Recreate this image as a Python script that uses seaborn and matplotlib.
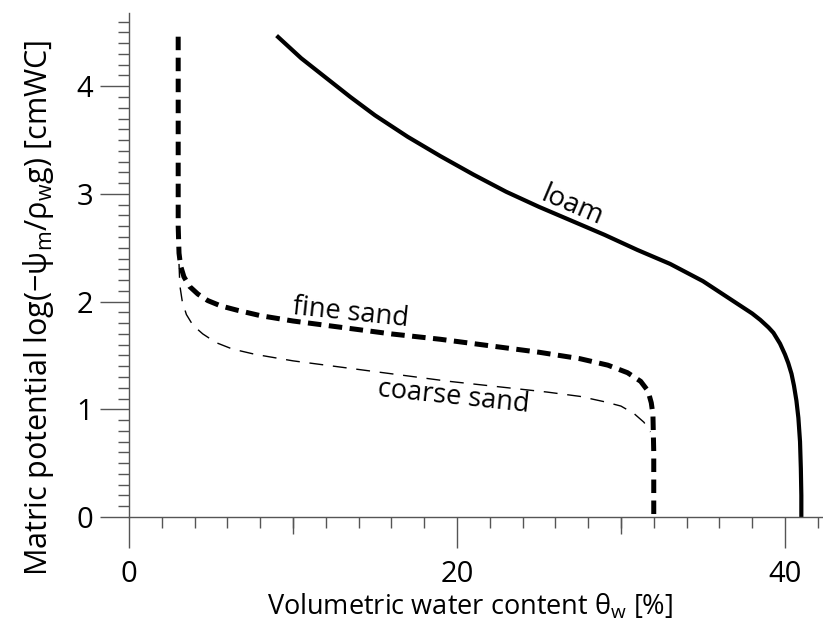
import matplotlib
matplotlib.use("Agg")
import matplotlib.pyplot as plt
from matplotlib.ticker import MultipleLocator, FixedLocator, NullFormatter
import seaborn as sns
import pandas as pd

# Water retention curves: volumetric water content (%) vs log matric potential
loam_theta = [9.0, 10.5, 12.0, 13.5, 15.0, 17.0, 19.0, 21.0, 23.0, 25.0, 27.0, 29.0,
              31.0, 33.0, 35.0, 36.5, 37.5, 38.0, 38.5, 39.0, 39.3, 39.7, 40.0, 40.2,
              40.4, 40.55, 40.7, 40.82, 40.92, 40.97, 41.0, 41.0]
loam_psi = [4.47, 4.26, 4.08, 3.90, 3.73, 3.53, 3.35, 3.18, 3.02, 2.88, 2.75, 2.62,
            2.48, 2.35, 2.19, 2.04, 1.94, 1.89, 1.83, 1.76, 1.71, 1.61, 1.51, 1.43,
            1.33, 1.22, 1.08, 0.92, 0.70, 0.45, 0.20, 0.0]

fine_theta = [3.0, 3.0, 3.0, 3.05, 3.15, 3.35, 3.7, 4.2, 4.8, 5.6, 6.6, 8.0, 10.0,
              13.0, 16.0, 19.0, 22.0, 25.0, 27.5, 29.2, 30.4, 31.2, 31.65, 31.85,
              31.95, 32.0, 32.0]
fine_psi = [4.46, 3.5, 2.7, 2.45, 2.33, 2.23, 2.14, 2.07, 2.01, 1.96, 1.92, 1.87, 1.82,
            1.76, 1.70, 1.65, 1.59, 1.53, 1.47, 1.41, 1.34, 1.26, 1.17, 1.06,
            0.95, 0.6, 0.0]

coarse_theta = [3.05, 3.1, 3.25, 3.5, 3.9, 4.5, 5.3, 6.3, 7.7, 10.0, 13.5, 16.5, 19.5,
                22.5, 25.5, 27.5, 29.0, 30.0, 30.8, 31.4, 31.8]
coarse_psi = [2.35, 2.15, 2.0, 1.88, 1.78, 1.70, 1.62, 1.56, 1.51, 1.45, 1.38, 1.32, 1.26,
              1.21, 1.16, 1.12, 1.07, 1.03, 0.96, 0.88, 0.79]

x_major = [0, 20, 40]
x_mid = [10, 30]
y_major = [0, 1, 2, 3, 4]

sns.set_style("ticks")
plt.rcParams["font.family"] = ["Open Sans", "DejaVu Sans"]
plt.rcParams["text.color"] = "black"
plt.rcParams["axes.labelcolor"] = "black"
plt.rcParams["xtick.labelcolor"] = "black"
plt.rcParams["ytick.labelcolor"] = "black"

grey = "#555555"
fig = plt.figure(figsize=(8.23, 6.27), dpi=100)
ax = fig.add_axes([129 / 823, 110 / 627, 693 / 823, 504 / 627])

def draw(theta, psi, **kw):
    df = pd.DataFrame({"theta": theta, "psi": psi})
    sns.lineplot(data=df, x="theta", y="psi", sort=False, estimator=None,
                 ax=ax, color="black", **kw)

draw(loam_theta, loam_psi, linewidth=3.0, solid_capstyle="butt",
     solid_joinstyle="round")
draw(fine_theta, fine_psi, linewidth=3.6, linestyle=(0, (2.7, 1.5)),
     dash_capstyle="butt")
draw(coarse_theta, coarse_psi, linewidth=1.0, linestyle=(0, (10, 7)),
     dash_capstyle="butt")

ax.set_xlim(0, 42.26)
ax.set_ylim(0, 4.68)

for s in ["top", "right"]:
    ax.spines[s].set_visible(False)
for s in ["left", "bottom"]:
    ax.spines[s].set_color(grey)
    ax.spines[s].set_linewidth(1.0)

ax.xaxis.set_major_locator(FixedLocator(x_major))
ax.xaxis.set_minor_locator(MultipleLocator(2))
ax.yaxis.set_major_locator(FixedLocator(y_major))
ax.yaxis.set_minor_locator(FixedLocator([i / 10 for i in range(0, 47)]))
ax.tick_params(axis="x", which="major", length=22, width=1, color=grey,
               labelsize=21, pad=9, direction="out")
ax.tick_params(axis="x", which="minor", length=8, width=1, color=grey,
               direction="out")
ax.tick_params(axis="y", which="major", length=21, width=1, color=grey,
               labelsize=21, pad=5, direction="out")
ax.tick_params(axis="y", which="minor", length=8, width=1, color=grey,
               direction="out")

# medium-length ticks at 10 and 30
sec = ax.secondary_xaxis("bottom")
sec.set_xticks(x_mid)
sec.xaxis.set_major_formatter(NullFormatter())
sec.tick_params(length=12, width=1, color=grey, direction="out")
sec.spines["bottom"].set_visible(False)

ax.set_xlabel(r"Volumetric water content θ$_\mathregular{w}$ [%]", fontsize=19.5)
ax.set_ylabel(r"Matric potential log(−ψ$_\mathregular{m}$/ρ$_\mathregular{w}$g) [cmWC]",
              fontsize=22)
ax.xaxis.set_label_coords(0.492, -0.148)
ax.yaxis.set_label_coords(-0.105, 0.414)

ax.text(27.0, 2.89, "loam", fontsize=20, rotation=-23, ha="center", va="center")
ax.text(13.5, 1.89, "fine sand", fontsize=19.5, rotation=-6, ha="center", va="center")
ax.text(19.8, 1.11, "coarse sand", fontsize=19.5, rotation=-6, ha="center", va="center")

fig.savefig("out.png", dpi=100)
